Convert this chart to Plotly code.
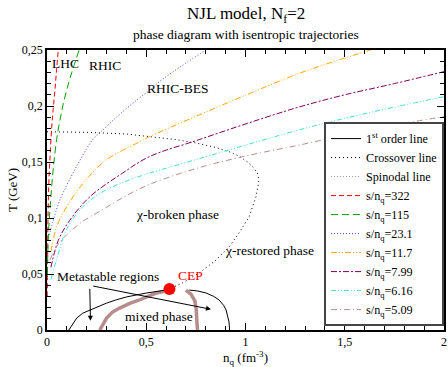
import plotly.graph_objects as go

# ---- data (n_q in fm^-3, T in GeV) ----
first_left_n = [0.11, 0.13, 0.15, 0.18, 0.216, 0.26, 0.30, 0.35, 0.40, 0.50, 0.60]
first_left_T = [0.0, 0.006, 0.0107, 0.0150, 0.0179, 0.021, 0.024, 0.027, 0.0295, 0.033, 0.0357]
first_right_n = [0.717, 0.76, 0.802, 0.84, 0.867, 0.89, 0.902, 0.912, 0.917, 0.92]
first_right_T = [0.0357, 0.0348, 0.033, 0.030, 0.0268, 0.022, 0.0179, 0.012, 0.0071, 0.0]

cross_n = [0.0, 0.2, 0.4, 0.52, 0.65, 0.75, 0.85, 0.92, 0.97, 1.01, 1.04, 1.06, 1.068,
           1.053, 1.018, 0.967, 0.917, 0.852, 0.767, 0.682, 0.617]
cross_T = [0.177, 0.1765, 0.175, 0.1726, 0.170, 0.167, 0.163, 0.159, 0.155, 0.150, 0.145,
           0.140, 0.134, 0.119, 0.101, 0.0866, 0.074, 0.0625, 0.051, 0.042, 0.0366]

spin_left_n = [0.266, 0.285, 0.30, 0.33, 0.366, 0.42, 0.466, 0.52, 0.551, 0.60]
spin_left_T = [0.0, 0.006, 0.0107, 0.016, 0.0196, 0.024, 0.0268, 0.031, 0.033, 0.0348]
spin_right_n = [0.70, 0.725, 0.745, 0.752, 0.755, 0.758]
spin_right_T = [0.0355, 0.032, 0.026, 0.018, 0.008, 0.0]

cep_n = [0.617]
cep_T = [0.0366]

traj_labels = ["322", "115", "23.1", "11.7", "7.99", "6.16", "5.09"]
traj_n = [
    [0.001, 0.003, 0.005, 0.009, 0.014, 0.023, 0.031, 0.040, 0.048, 0.057],
    [0.002, 0.006, 0.012, 0.020, 0.032, 0.0485, 0.068, 0.090, 0.125, 0.162],
    [0.012, 0.03, 0.065, 0.149, 0.23, 0.266, 0.35, 0.45, 0.516, 0.566, 0.68, 0.80],
    [0.02, 0.0485, 0.099, 0.182, 0.30, 0.466, 0.516, 0.767, 1.018, 1.268, 1.45, 1.63],
    [0.02, 0.057, 0.115, 0.216, 0.38, 0.516, 0.767, 1.018, 1.268, 1.5, 1.75, 2.0],
    [0.02, 0.06, 0.099, 0.17, 0.266, 0.40, 0.516, 0.767, 1.018, 1.268, 1.5, 1.75, 2.0],
    [0.015, 0.05, 0.099, 0.18, 0.266, 0.40, 0.516, 0.767, 1.018, 1.268, 1.5, 1.75, 2.0],
]
traj_T = [
    [0.03, 0.06, 0.10, 0.13, 0.15, 0.179, 0.197, 0.214, 0.232, 0.25],
    [0.05, 0.08, 0.10, 0.12, 0.145, 0.17, 0.19, 0.208, 0.23, 0.25],
    [0.085, 0.097, 0.116, 0.146, 0.170, 0.176, 0.190, 0.205, 0.214, 0.2217, 0.236, 0.25],
    [0.07, 0.092, 0.110, 0.131, 0.152, 0.168, 0.1726, 0.192, 0.211, 0.229, 0.240, 0.25],
    [0.056, 0.080, 0.098, 0.119, 0.14, 0.1548, 0.170, 0.185, 0.199, 0.210, 0.220, 0.2307],
    [0.045, 0.07, 0.09, 0.108, 0.122, 0.133, 0.140, 0.153, 0.166, 0.1786, 0.189, 0.199, 0.2083],
    [0.0625, 0.075, 0.085, 0.097, 0.106, 0.120, 0.130, 0.145, 0.156, 0.165, 0.174, 0.183, 0.1905],
]
traj_colors = ["#ff0000", "#00a000", "#4444ff", "#ffa500", "#800060", "#40e0d0", "#bc8f8f"]
traj_dash = ["5px,3px", "7px,4px", "1px,2px", "6px,2px,1px,2px,1px,2px",
             "6px,2px,2px,2px", "5px,2px,1px,2px,1px,2px", "6px,3px,1px,3px"]

x_ticks = [0, 0.5, 1, 1.5, 2]
y_ticks = [0, 0.05, 0.1, 0.15, 0.2, 0.25]

FONT = "Liberation Serif"

fig = go.Figure()

fig.add_trace(go.Scatter(x=spin_left_n + [None] + spin_right_n,
                         y=spin_left_T + [None] + spin_right_T,
                         mode="lines", line=dict(color="#b88c8c", width=3.5),
                         showlegend=False, hoverinfo="skip"))

fig.add_trace(go.Scatter(x=first_left_n + [None] + first_right_n,
                         y=first_left_T + [None] + first_right_T,
                         mode="lines", line=dict(color="black", width=1),
                         name="1<sup>st</sup> order line"))
fig.add_trace(go.Scatter(x=cross_n, y=cross_T, mode="lines",
                         line=dict(color="black", width=1, dash="1px,3px"),
                         name="Crossover line"))
fig.add_trace(go.Scatter(x=[None], y=[None], mode="lines",
                         line=dict(color="#b88c8c", width=1, dash="1px,2px"),
                         name="Spinodal line"))

for lab, xs, ys, c, d in zip(traj_labels, traj_n, traj_T, traj_colors, traj_dash):
    fig.add_trace(go.Scatter(x=xs, y=ys, mode="lines", line=dict(color=c, width=1, dash=d),
                             line_shape="spline",
                             name="s/n<sub>q</sub>=" + lab))

fig.add_trace(go.Scatter(x=cep_n, y=cep_T, mode="markers",
                         marker=dict(color="red", size=12), showlegend=False))

texts = [
    ("LHC", 0.095, 0.238, "black"),
    ("RHIC", 0.29, 0.2366, "black"),
    ("RHIC-BES", 0.66, 0.216, "black"),
    ("χ-broken phase", 0.657, 0.1027, "black"),
    ("χ-restored phase", 1.12, 0.0714, "black"),
    ("Metastable regions", 0.306, 0.0476, "black"),
    ("CEP", 0.722, 0.049, "red"),
    ("mixed phase", 0.564, 0.0119, "black"),
]
anns = []
for t, x, y, c in texts:
    anns.append(dict(text=t, x=x, y=y, xref="x", yref="y", showarrow=False,
                     font=dict(family=FONT, size=13.5, color=c)))
for (x0, y0, x1, y1) in [(0.2155, 0.0381, 0.219, 0.0083), (0.225, 0.0395, 0.826, 0.0185)]:
    anns.append(dict(text="", x=x1, y=y1, ax=x0, ay=y0, xref="x", yref="y",
                     axref="x", ayref="y", showarrow=True, arrowhead=2, arrowsize=1,
                     arrowwidth=1, arrowcolor="black", standoff=0, startstandoff=0))
anns.append(dict(text="NJL model, N<sub>f</sub>=2", x=0.5, y=1.125, xref="paper", yref="paper",
                 xanchor="center", yanchor="middle", showarrow=False,
                 font=dict(family=FONT, size=17, color="black")))
anns.append(dict(text="phase diagram with isentropic trajectories", x=0.5, y=1.054,
                 xref="paper", yref="paper", xanchor="center", yanchor="middle",
                 showarrow=False, font=dict(family=FONT, size=13.5, color="black")))

fig.update_layout(
    width=448, height=367,
    margin=dict(l=47, r=2, t=50, b=37),
    paper_bgcolor="white", plot_bgcolor="white",
    separators=",.",
    font=dict(family=FONT, size=12, color="black"),
    annotations=anns,
    showlegend=True,
    legend=dict(x=1, xanchor="right", y=0.014, yanchor="bottom",
                bgcolor="white", bordercolor="#444444", borderwidth=2,
                font=dict(family=FONT, size=12.2, color="black"),
                itemwidth=30, tracegroupgap=0),
)

fig.update_xaxes(range=[0, 2], tickvals=x_ticks, showgrid=False, zeroline=False,
                 showline=True, linecolor="black", linewidth=1.5, mirror="ticks",
                 ticks="inside", ticklen=7, tickwidth=1.2, tickcolor="black",
                 tickfont=dict(family=FONT, size=12),
                 minor=dict(dtick=0.1, ticks="inside", ticklen=4, tickcolor="black", tickwidth=1),
                 title=dict(text="n<sub>q</sub> (fm<sup>-3</sup>)", standoff=4,
                            font=dict(family=FONT, size=13)))
fig.update_yaxes(range=[0, 0.25], tickvals=y_ticks, showgrid=False, zeroline=False,
                 showline=True, linecolor="black", linewidth=1.5, mirror="ticks",
                 ticks="inside", ticklen=7, tickwidth=1.2, tickcolor="black",
                 tickfont=dict(family=FONT, size=12),
                 minor=dict(dtick=0.01, ticks="inside", ticklen=4, tickcolor="black", tickwidth=1),
                 title=dict(text="T (GeV)", standoff=1, font=dict(family=FONT, size=13)))

fig.write_html("out.html")
